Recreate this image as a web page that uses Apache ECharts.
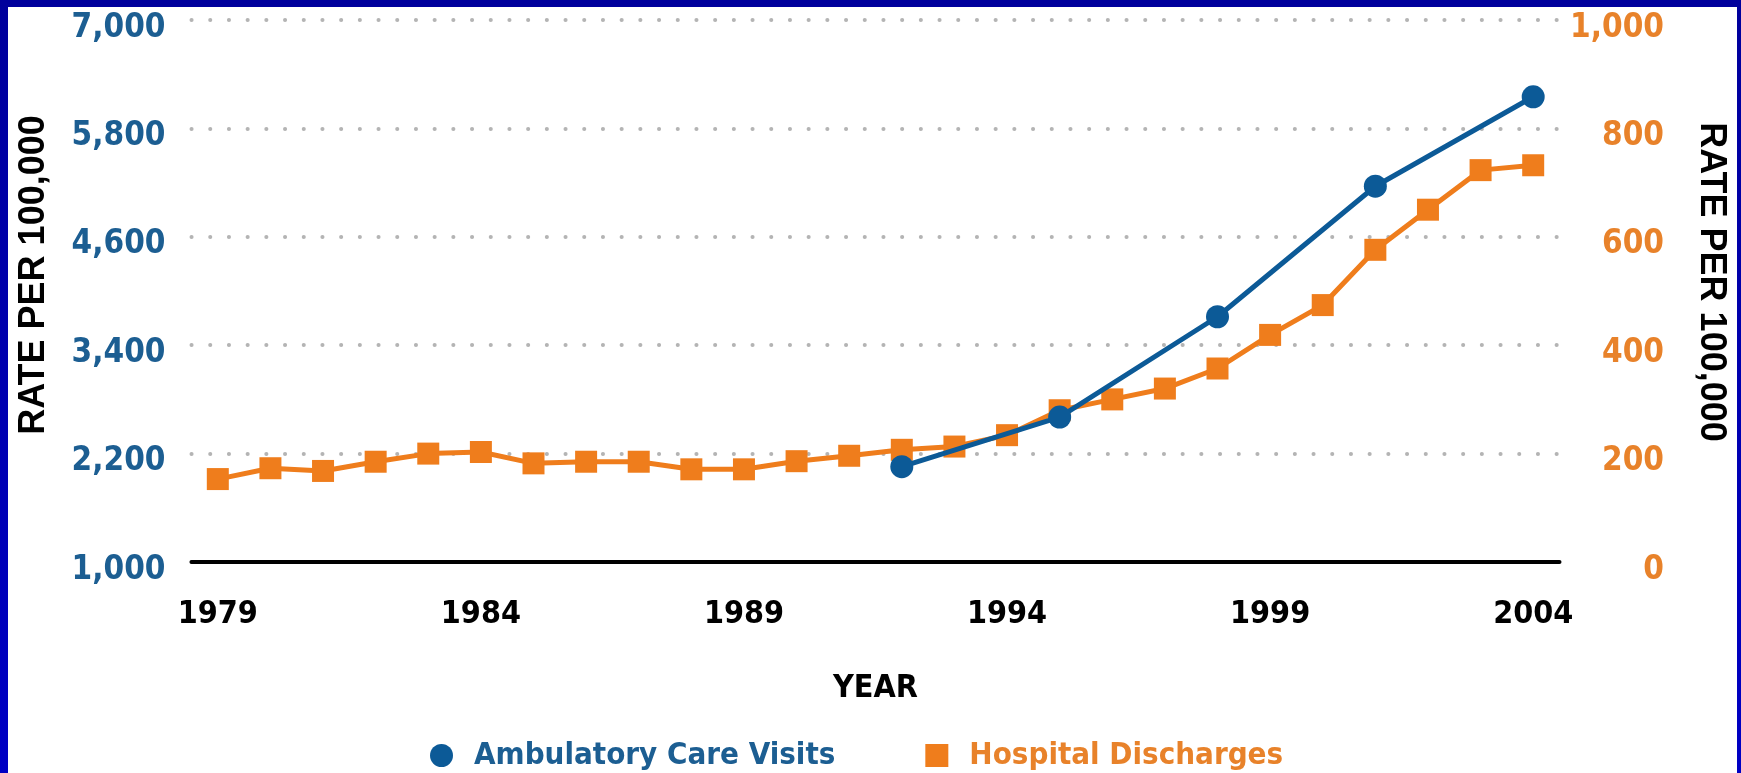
<!DOCTYPE html>
<html>
<head>
<meta charset="utf-8">
<script src="https://cdn.jsdelivr.net/npm/echarts@6/dist/echarts.min.js"></script>
<style>
  html, body { margin: 0; padding: 0; width: 1741px; height: 773px; overflow: hidden;
    background: linear-gradient(180deg, #00009c 0%, #0000c4 100%); }
  #chart { position: absolute; left: 8px; top: 7px; width: 1729px; height: 766px; background: #fff; }
</style>
</head>
<body>
<div id="chart"></div>
<script>
// years on the x axis
var years = [];
for (var y = 1979; y <= 2004; y++) years.push(String(y));

// hospital discharges, rate per 100,000 (right axis), one per year
var dischargeValues = [153, 173, 168, 185, 200, 203, 182, 185, 185, 171, 171, 186, 196,
  207, 213, 234, 280, 300, 320, 357, 419, 474, 576, 650, 723, 732];

// ambulatory care visits, rate per 100,000 (left axis), only some years
var visitYears = ["1992", "1995", "1998", "2001", "2004"];
var visitValues = [2055, 2605, 3715, 5160, 6150];

var blue = "#0c5a97";
var orange = "#ef7d1c";
var font = "'Liberation Sans Narrow', 'DejaVu Sans Condensed', 'Liberation Sans', sans-serif";
var titleFont = "'Liberation Sans', Arial, sans-serif";

var myChart = echarts.init(document.getElementById("chart"));

var option = {
  animation: false,
  grid: { left: 177.5, right: 173.5, top: 13, bottom: 211, containLabel: false },
  legend: {
    left: 417,
    top: 728,
    itemWidth: 23,
    itemHeight: 23,
    itemGap: 90,
    textStyle: { fontFamily: font, fontWeight: "bold", fontSize: 31, padding: [0, 0, 0, 16] },
    data: [
      { name: "Ambulatory Care Visits", icon: "circle", textStyle: { color: "#1c5e92" } },
      { name: "Hospital Discharges", icon: "rect", textStyle: { color: "#e8822a" } }
    ]
  },
  xAxis: {
    type: "category",
    data: years,
    name: "YEAR",
    nameLocation: "middle",
    nameGap: 111,
    nameTextStyle: { color: "#000", fontFamily: font, fontWeight: "bold", fontSize: 32 },
    axisLine: { lineStyle: { color: "#000", width: 4 } },
    axisTick: { alignWithLabel: true, interval: 0, length: 16, lineStyle: { color: "#000", width: 3 } },
    axisLabel: { interval: 4, margin: 37, color: "#000", fontFamily: font, fontWeight: "bold", fontSize: 32 },
    splitLine: { show: false }
  },
  yAxis: [
    {
      type: "value",
      position: "right",
      min: 0,
      max: 1000,
      interval: 200,
      name: "RATE PER 100,000",
      nameLocation: "middle",
      nameRotate: -90,
      nameGap: 133.5,
      nameTextStyle: { color: "#000", fontFamily: titleFont, fontWeight: "bold", fontSize: 36, padding: [0, 18, 0, 0] },
      axisLine: { show: false },
      axisTick: { show: false },
      axisLabel: {
        align: "right",
        verticalAlign: "top",
        lineHeight: 16,
        margin: 104.5,
        color: "#e8822a",
        fontFamily: font,
        fontWeight: "bold",
        fontSize: 33,
        formatter: function (v) { return v.toLocaleString("en-US"); }
      },
      splitLine: {
        show: true,
        lineStyle: { color: "#b4b4b4", width: 4, type: [0.1, 18.6], cap: "round" }
      }
    },
    {
      type: "value",
      position: "left",
      min: 1000,
      max: 7000,
      alignTicks: true,
      name: "RATE PER 100,000",
      nameLocation: "middle",
      nameRotate: 90,
      nameGap: 139.5,
      nameTextStyle: { color: "#000", fontFamily: titleFont, fontWeight: "bold", fontSize: 36, padding: [0, 0, 0, 32] },
      axisLine: { show: false },
      axisTick: { show: false },
      axisLabel: {
        verticalAlign: "top",
        lineHeight: 16,
        margin: 26,
        color: "#1c5e92",
        fontFamily: font,
        fontWeight: "bold",
        fontSize: 33,
        formatter: function (v) { return v.toLocaleString("en-US"); }
      },
      splitLine: { show: false }
    }
  ],
  series: [
    {
      name: "Hospital Discharges",
      type: "line",
      yAxisIndex: 0,
      data: dischargeValues,
      symbol: "rect",
      symbolSize: 22,
      itemStyle: { color: orange },
      lineStyle: { color: orange, width: 5 },
      z: 2
    },
    {
      name: "Ambulatory Care Visits",
      type: "line",
      yAxisIndex: 1,
      data: visitYears.map(function (yr, i) { return [yr, visitValues[i]]; }),
      symbol: "circle",
      symbolSize: 23,
      itemStyle: { color: blue },
      lineStyle: { color: blue, width: 5 },
      z: 3
    }
  ]
};

myChart.setOption(option);
</script>
</body>
</html>
